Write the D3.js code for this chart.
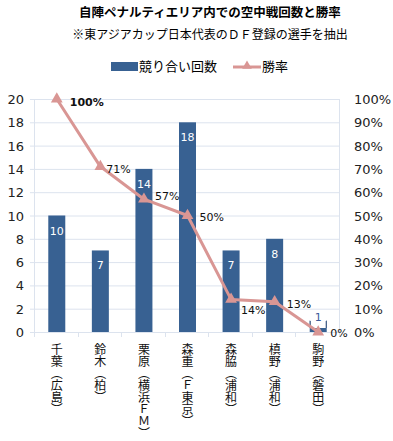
<!DOCTYPE html>
<html>
<head>
<meta charset="utf-8">
<script src="https://cdn.jsdelivr.net/npm/d3@7"></script>
<style>
body { margin: 0; background: #fff; }
text { font-family: "DejaVu Sans", sans-serif; }
.jp { font-family: "Noto Sans CJK JP", sans-serif; }
</style>
</head>
<body>
<script>
var categories = ['千葉（広島）', '鈴木（柏）', '栗原（横浜ＦＭ）', '森重（Ｆ東京）', '森脇（浦和）', '槙野（浦和）', '駒野（磐田）'];
var counts = [10, 7, 14, 18, 7, 8, 1];
var rates = [1.00, 0.71, 0.57, 0.50, 0.14, 0.13, 0.00];
var countTicks = [0, 2, 4, 6, 8, 10, 12, 14, 16, 18, 20];
var rateTicks = [0, 0.1, 0.2, 0.3, 0.4, 0.5, 0.6, 0.7, 0.8, 0.9, 1.0];

var _width = 393,
    _height = 441,
    _barColor = '#386192',
    _lineColor = '#d99694',
    _gridColor = '#dce3ee';

// label offsets for the rate labels (dx, dy from the point)
var _rateLabelPos = [[14, 7], [7, 6], [12, 1], [13, 5], [11, 15], [13, 6], [13, 5]];

var svg = d3.select('body').append('svg')
    .attr('width', _width).attr('height', _height);

var x = d3.scaleBand().domain(d3.range(categories.length)).range([34, 339]).paddingInner(0);
var y = d3.scaleLinear().domain([0, 20]).range([332, 99]);
var y2 = d3.scaleLinear().domain([0, 1]).range([332, 99]);

var cx = function(i){ return x(i) + x.bandwidth() / 2 + 1; };

// title
svg.append('text').attr('class', 'jp')
    .attr('x', 210).attr('y', 17)
    .attr('text-anchor', 'middle')
    .style('font-size', '12.5px').style('font-weight', 'bold')
    .text('自陣ペナルティエリア内での空中戦回数と勝率');
svg.append('text').attr('class', 'jp')
    .attr('x', 210).attr('y', 39)
    .attr('text-anchor', 'middle')
    .style('font-size', '12px')
    .text('※東アジアカップ日本代表のＤＦ登録の選手を抽出');

// legend
svg.append('rect').attr('x', 111).attr('y', 62).attr('width', 27).attr('height', 9).attr('fill', _barColor);
svg.append('text').attr('class', 'jp').attr('x', 139).attr('y', 71).style('font-size', '13px').text('競り合い回数');
svg.append('line').attr('x1', 233).attr('x2', 261).attr('y1', 67).attr('y2', 67)
    .attr('stroke', _lineColor).attr('stroke-width', 3);
svg.append('path').attr('d', d3.symbol(d3.symbolTriangle, 40)())
    .attr('transform', 'translate(247,66)').attr('fill', _lineColor);
svg.append('text').attr('class', 'jp').attr('x', 262).attr('y', 71).style('font-size', '13px').text('勝率');

// grid
svg.append('g').selectAll('line').data(countTicks.slice(1)).enter().append('line')
    .attr('x1', 30).attr('x2', 339)
    .attr('y1', function(d){ return y(d) + 0.5; })
    .attr('y2', function(d){ return y(d) + 0.5; })
    .attr('stroke', _gridColor).attr('stroke-width', 1);

// axes lines
svg.append('line').attr('x1', 34.5).attr('x2', 34.5).attr('y1', 99).attr('y2', 337)
    .attr('stroke', _gridColor);
svg.append('line').attr('x1', 339.5).attr('x2', 339.5).attr('y1', 99).attr('y2', 332)
    .attr('stroke', _gridColor);
svg.append('line').attr('x1', 30).attr('x2', 339).attr('y1', 332.5).attr('y2', 332.5)
    .attr('stroke', _gridColor);
svg.append('g').selectAll('line').data(d3.range(categories.length + 1)).enter().append('line')
    .attr('x1', function(i){ return Math.round(34 + i * x.bandwidth()) + 0.5; })
    .attr('x2', function(i){ return Math.round(34 + i * x.bandwidth()) + 0.5; })
    .attr('y1', 332).attr('y2', 337)
    .attr('stroke', _gridColor);

// left axis labels
svg.append('g').selectAll('text').data(countTicks).enter().append('text')
    .attr('x', 24).attr('y', function(d){ return y(d) + 5; })
    .attr('text-anchor', 'end')
    .style('font-size', '13px').attr('fill', '#222')
    .text(function(d){ return d; });

// right axis labels
svg.append('g').selectAll('text').data(rateTicks).enter().append('text')
    .attr('x', 354).attr('y', function(d){ return y2(d) + 5; })
    .style('font-size', '13px').attr('fill', '#222')
    .text(function(d){ return Math.round(d * 100) + '%'; });

// bars
var barW = 17;
svg.append('g').selectAll('rect').data(counts).enter().append('rect')
    .attr('x', function(d, i){ return cx(i) - barW / 2; })
    .attr('y', function(d){ return y(d); })
    .attr('width', barW)
    .attr('height', function(d){ return y(0) - y(d); })
    .attr('fill', _barColor);

// bar labels (small bars get a white box above the bar)
var barLabels = svg.append('g').selectAll('g').data(counts).enter().append('g');
barLabels.filter(function(d){ return d <= 2; }).each(function(d, k){
    var g = d3.select(this), i = counts.indexOf(d);
    g.append('rect').attr('x', cx(i) - 8).attr('y', y(0) - 20).attr('width', 16).attr('height', 16)
        .attr('fill', '#fff');
    g.append('path')
        .attr('d', 'M' + (cx(i) - 8) + ',' + (y(0) - 11) + 'V' + (y(0) - 4) +
                   'M' + (cx(i) + 8) + ',' + (y(0) - 11) + 'V' + (y(0) - 4))
        .attr('stroke', '#2d4b78').attr('stroke-width', 1).attr('fill', 'none');
});
barLabels.append('text')
    .attr('x', function(d, i){ return cx(i); })
    .attr('y', function(d){ return d > 2 ? y(d) + 19 : y(0) - 11; })
    .attr('text-anchor', 'middle')
    .style('font-size', '11px')
    .attr('fill', function(d){ return d > 2 ? '#fff' : '#3c5a9a'; })
    .text(function(d){ return d; });

// line
var line = d3.line()
    .x(function(d, i){ return cx(i); })
    .y(function(d){ return y2(d); });
svg.append('path').datum(rates)
    .attr('d', line)
    .attr('fill', 'none').attr('stroke', _lineColor).attr('stroke-width', 3)
    .attr('stroke-linejoin', 'round');
svg.append('g').selectAll('path').data(rates).enter().append('path')
    .attr('d', d3.symbol(d3.symbolTriangle, 60)())
    .attr('transform', function(d, i){ return 'translate(' + cx(i) + ',' + y2(d) + ')'; })
    .attr('fill', _lineColor);

// rate labels
svg.append('g').selectAll('text').data(rates).enter().append('text')
    .attr('x', function(d, i){ return x(i) + x.bandwidth() / 2 + _rateLabelPos[i][0]; })
    .attr('y', function(d, i){ return y2(d) + _rateLabelPos[i][1]; })
    .style('font-size', '11px')
    .style('font-weight', function(d, i){ return i === 0 ? 'bold' : 'normal'; })
    .attr('fill', '#111')
    .text(function(d){ return Math.round(d * 100) + '%'; });

// category labels (vertical)
svg.append('g').selectAll('text').data(categories).enter().append('text')
    .attr('class', 'jp')
    .attr('x', function(d, i){ return cx(i); })
    .attr('y', 343)
    .style('writing-mode', 'vertical-rl')
    .style('font-size', '12px')
    .attr('fill', '#111')
    .text(function(d){ return d; });
</script>
</body>
</html>
